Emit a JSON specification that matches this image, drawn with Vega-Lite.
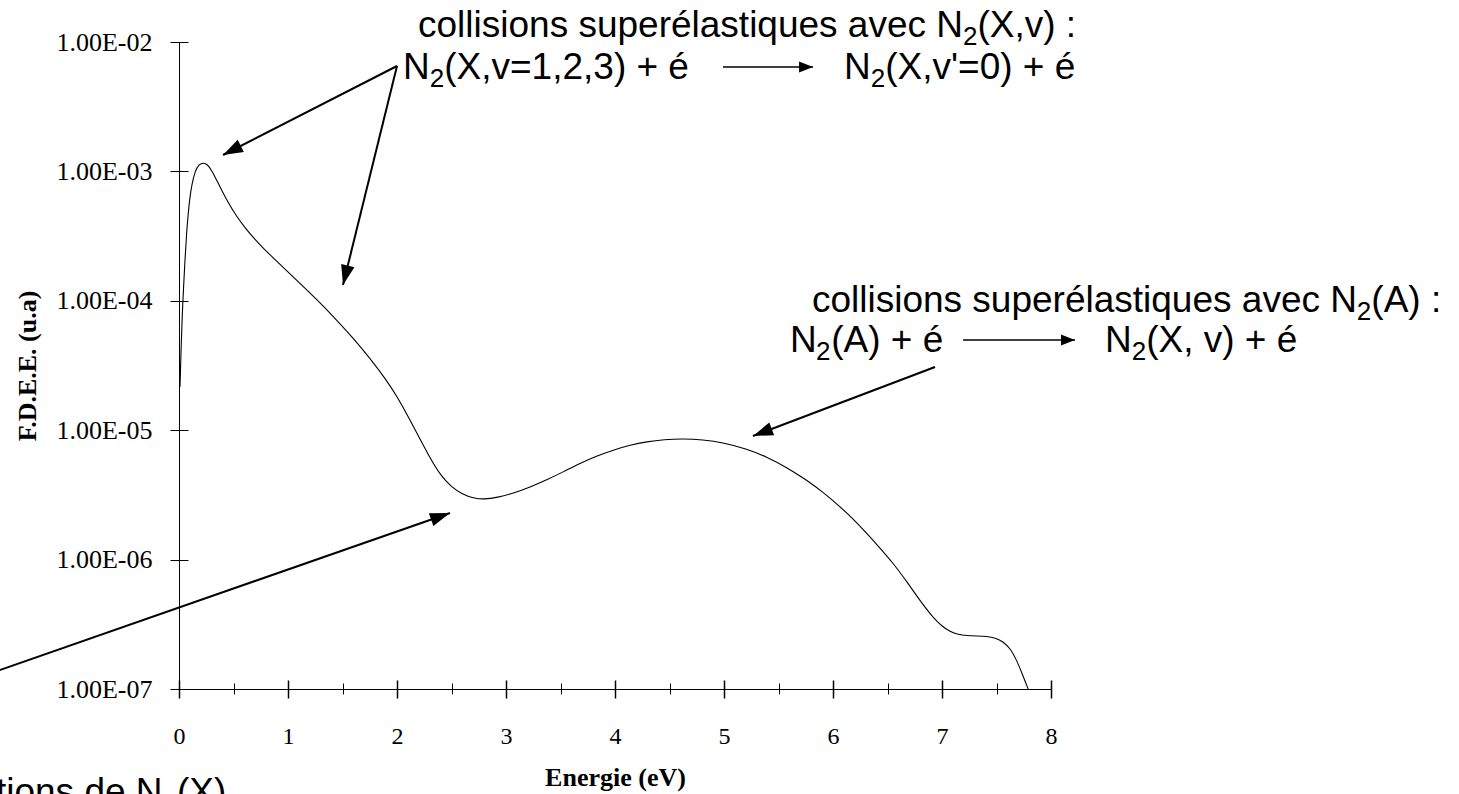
{
  "$schema": "https://vega.github.io/schema/vega-lite/v6.json",
  "width": 872,
  "height": 647,
  "autosize": {"type": "none"},
  "padding": {"left": 179, "top": 42, "right": 408, "bottom": 105},
  "background": "white",
  "config": {"view": {"stroke": null}, "font": "Liberation Sans"},
  "datasets": {
    "curve": [
      {"E": 0.009, "F": 2.153e-5}, {"E": 0.02, "F": 4.467e-5}, {"E": 0.03, "F": 7.943e-5},
      {"E": 0.04, "F": 1.175e-4}, {"E": 0.055, "F": 2.089e-4}, {"E": 0.07, "F": 3.388e-4},
      {"E": 0.085, "F": 4.786e-4}, {"E": 0.10, "F": 6.310e-4}, {"E": 0.116, "F": 7.762e-4},
      {"E": 0.147, "F": 1.012e-3}, {"E": 0.186, "F": 1.140e-3}, {"E": 0.223, "F": 1.167e-3},
      {"E": 0.26, "F": 1.135e-3}, {"E": 0.30, "F": 1.023e-3}, {"E": 0.376, "F": 7.586e-4},
      {"E": 0.45, "F": 5.754e-4}, {"E": 0.53, "F": 4.467e-4}, {"E": 0.61, "F": 3.631e-4},
      {"E": 0.69, "F": 3.020e-4}, {"E": 0.78, "F": 2.512e-4}, {"E": 0.88, "F": 2.089e-4},
      {"E": 0.99, "F": 1.698e-4}, {"E": 1.14, "F": 1.288e-4}, {"E": 1.294, "F": 9.660e-5},
      {"E": 1.447, "F": 7.079e-5}, {"E": 1.6, "F": 5.129e-5}, {"E": 1.752, "F": 3.589e-5},
      {"E": 1.905, "F": 2.427e-5}, {"E": 2.0, "F": 1.820e-5}, {"E": 2.1, "F": 1.288e-5},
      {"E": 2.2, "F": 8.913e-6}, {"E": 2.3, "F": 6.166e-6}, {"E": 2.4, "F": 4.467e-6},
      {"E": 2.5, "F": 3.631e-6}, {"E": 2.6, "F": 3.199e-6}, {"E": 2.7, "F": 2.985e-6},
      {"E": 2.8, "F": 2.917e-6}, {"E": 2.92, "F": 3.020e-6}, {"E": 3.067, "F": 3.251e-6},
      {"E": 3.22, "F": 3.631e-6}, {"E": 3.372, "F": 4.121e-6}, {"E": 3.53, "F": 4.786e-6},
      {"E": 3.679, "F": 5.546e-6}, {"E": 3.83, "F": 6.310e-6}, {"E": 3.985, "F": 7.031e-6},
      {"E": 4.14, "F": 7.674e-6}, {"E": 4.291, "F": 8.147e-6}, {"E": 4.45, "F": 8.472e-6},
      {"E": 4.627, "F": 8.590e-6}, {"E": 4.80, "F": 8.453e-6}, {"E": 5.0, "F": 7.998e-6},
      {"E": 5.2, "F": 7.194e-6}, {"E": 5.391, "F": 6.237e-6}, {"E": 5.58, "F": 5.129e-6},
      {"E": 5.758, "F": 4.121e-6}, {"E": 5.91, "F": 3.311e-6}, {"E": 6.064, "F": 2.570e-6},
      {"E": 6.19, "F": 2.042e-6}, {"E": 6.309, "F": 1.596e-6}, {"E": 6.43, "F": 1.230e-6},
      {"E": 6.554, "F": 9.333e-7}, {"E": 6.66, "F": 7.079e-7}, {"E": 6.768, "F": 5.248e-7},
      {"E": 6.85, "F": 4.217e-7}, {"E": 6.921, "F": 3.548e-7}, {"E": 7.0, "F": 3.055e-7},
      {"E": 7.073, "F": 2.773e-7}, {"E": 7.15, "F": 2.630e-7}, {"E": 7.226, "F": 2.582e-7},
      {"E": 7.32, "F": 2.570e-7}, {"E": 7.41, "F": 2.559e-7}, {"E": 7.49, "F": 2.483e-7},
      {"E": 7.562, "F": 2.323e-7}, {"E": 7.63, "F": 2.042e-7}, {"E": 7.684, "F": 1.675e-7},
      {"E": 7.74, "F": 1.288e-7}, {"E": 7.79, "F": 1.0e-7}
    ],
    "arrows": [
      {"id": "a1", "x": 2.0, "y": 6.525e-3, "x2": 0.4037, "y2": 1.339e-3},
      {"id": "a2", "x": 2.0, "y": 6.525e-3, "x2": 1.5046, "y2": 1.325e-4},
      {"id": "a3", "x": 6.9358, "y": 3.079e-5, "x2": 5.2661, "y2": 9.021e-6},
      {"id": "a4", "x": -1.917, "y": 1.164e-7, "x2": 2.4862, "y2": 2.292e-6},
      {"id": "b1", "x": 4.991, "y": 6.408e-3, "x2": 5.817, "y2": 6.408e-3},
      {"id": "b2", "x": 7.193, "y": 4.980e-5, "x2": 8.220, "y2": 4.980e-5}
    ],
    "notes": [
      {"x": 2.193, "y": 1.093e-2, "t": "collisions superélastiques avec N"},
      {"x": 7.325, "y": 1.093e-2, "t": "(X,v) :"},
      {"x": 2.055, "y": 5.177e-3, "t": "N"},
      {"x": 2.433, "y": 5.177e-3, "t": "(X,v=1,2,3) + é"},
      {"x": 6.101, "y": 5.177e-3, "t": "N"},
      {"x": 6.479, "y": 5.177e-3, "t": "(X,v'=0) + é"},
      {"x": 5.807, "y": 8.192e-5, "t": "collisions superélastiques avec N"},
      {"x": 10.939, "y": 8.192e-5, "t": "(A) :"},
      {"x": 5.606, "y": 4.021e-5, "t": "N"},
      {"x": 5.9835, "y": 4.021e-5, "t": "(A) + é"},
      {"x": 8.495, "y": 4.021e-5, "t": "N"},
      {"x": 8.873, "y": 4.021e-5, "t": "(X, v) + é"},
      {"x": -2.566, "y": 1.292e-8, "t": "excitations de N"},
      {"x": -0.0184, "y": 1.292e-8, "t": "(X)"}
    ],
    "subs": [
      {"x": 7.192, "y": 1.093e-2, "t": "2"},
      {"x": 2.2999, "y": 5.177e-3, "t": "2"},
      {"x": 6.346, "y": 5.177e-3, "t": "2"},
      {"x": 10.806, "y": 8.192e-5, "t": "2"},
      {"x": 5.8431, "y": 4.021e-5, "t": "2"},
      {"x": 8.740, "y": 4.021e-5, "t": "2"},
      {"x": -0.1514, "y": 1.292e-8, "t": "2"}
    ]
  },
  "resolve": {"axis": {"x": "independent", "y": "independent"}},
  "layer": [
    {
      "data": {"name": "curve"},
      "mark": {"type": "line", "interpolate": "basis", "color": "black", "strokeWidth": 1.1},
      "encoding": {
        "x": {
          "field": "E", "type": "quantitative",
          "scale": {"domain": [0, 8], "nice": false, "zero": false},
          "axis": {
            "orient": "bottom", "domain": true, "domainColor": "black", "domainWidth": 1,
            "ticks": false, "labels": false, "grid": false,
            "title": "Energie (eV)", "titleFont": "Liberation Serif", "titleFontSize": 26,
            "titleFontWeight": "bold", "titleColor": "black", "titleY": 96, "titleBaseline": "alphabetic"
          }
        },
        "y": {
          "field": "F", "type": "quantitative",
          "scale": {"type": "log", "domain": [1e-7, 1e-2], "nice": false},
          "axis": {
            "orient": "left", "domain": true, "domainColor": "black", "domainWidth": 1,
            "ticks": false, "labels": false, "grid": false,
            "title": "F.D.E.E. (u.a)", "titleFont": "Liberation Serif", "titleFontSize": 26,
            "titleFontWeight": "bold", "titleColor": "black", "titleAngle": -90,
            "titleX": -144, "titleY": 323.5, "titleAlign": "center", "titleBaseline": "alphabetic"
          }
        }
      }
    },
    {
      "data": {"name": "arrows"},
      "transform": [{"filter": "datum.id[0] === 'a'"}],
      "mark": {"type": "rule", "color": "black", "strokeWidth": 2},
      "encoding": {
        "x": {
          "field": "x", "type": "quantitative",
          "scale": {"domain": [0, 8], "nice": false, "zero": false},
          "axis": {
            "orient": "bottom", "values": [0, 1, 2, 3, 4, 5, 6, 7, 8],
            "offset": -9, "tickSize": 18, "tickColor": "black", "tickWidth": 1.5,
            "domain": false, "grid": false, "labelFont": "Liberation Serif", "labelFontSize": 24,
            "labelColor": "black", "labelPadding": 26, "labelFlush": false, "labelOverlap": false,
            "title": null
          }
        },
        "y": {
          "field": "y", "type": "quantitative",
          "scale": {"type": "log", "domain": [1e-7, 1e-2], "nice": false},
          "axis": {
            "orient": "left", "values": [1e-7, 1e-6, 1e-5, 1e-4, 1e-3, 1e-2],
            "offset": -9, "tickSize": 18, "tickColor": "black", "tickWidth": 1,
            "domain": false, "grid": false,
            "labelExpr": "'1.00E-0' + round(-log(datum.value) / LN10)",
            "labelFont": "Liberation Serif", "labelFontSize": 26, "labelColor": "black",
            "labelPadding": 18, "labelFlush": false, "labelOverlap": false, "title": null
          }
        },
        "x2": {"field": "x2"},
        "y2": {"field": "y2"}
      }
    },
    {
      "data": {"name": "arrows"},
      "transform": [{"filter": "datum.id[0] === 'b'"}],
      "mark": {"type": "rule", "color": "black", "strokeWidth": 1.5},
      "encoding": {
        "x": {"field": "x", "type": "quantitative", "scale": {"domain": [0, 8], "nice": false, "zero": false}, "axis": null},
        "y": {"field": "y", "type": "quantitative", "scale": {"type": "log", "domain": [1e-7, 1e-2], "nice": false}, "axis": null},
        "x2": {"field": "x2"},
        "y2": {"field": "y2"}
      }
    },
    {
      "data": {"name": "arrows"},
      "transform": [{"filter": "datum.id === 'a1'"}],
      "mark": {"type": "point", "shape": "M0,0L-0.34,1L0.34,1Z", "filled": true, "color": "black", "opacity": 1, "size": 1600, "angle": 242.9, "strokeWidth": 0},
      "encoding": {
        "x": {
          "field": "x2", "type": "quantitative",
          "scale": {"domain": [0, 8], "nice": false, "zero": false},
          "axis": {
            "orient": "bottom", "values": [0.5, 1.5, 2.5, 3.5, 4.5, 5.5, 6.5, 7.5],
            "offset": -6, "tickSize": 11, "tickColor": "black", "tickWidth": 1,
            "domain": false, "labels": false, "grid": false, "title": null
          }
        },
        "y": {"field": "y2", "type": "quantitative", "scale": {"type": "log", "domain": [1e-7, 1e-2], "nice": false}, "axis": null}
      }
    },
    {
      "data": {"name": "arrows"},
      "transform": [{"filter": "datum.id === 'a2'"}],
      "mark": {"type": "point", "shape": "M0,0L-0.34,1L0.34,1Z", "filled": true, "color": "black", "opacity": 1, "size": 1600, "angle": 193.85, "strokeWidth": 0},
      "encoding": {
        "x": {"field": "x2", "type": "quantitative", "scale": {"domain": [0, 8], "nice": false, "zero": false}, "axis": null},
        "y": {"field": "y2", "type": "quantitative", "scale": {"type": "log", "domain": [1e-7, 1e-2], "nice": false}, "axis": null}
      }
    },
    {
      "data": {"name": "arrows"},
      "transform": [{"filter": "datum.id === 'a3'"}],
      "mark": {"type": "point", "shape": "M0,0L-0.34,1L0.34,1Z", "filled": true, "color": "black", "opacity": 1, "size": 1600, "angle": 249.2, "strokeWidth": 0},
      "encoding": {
        "x": {"field": "x2", "type": "quantitative", "scale": {"domain": [0, 8], "nice": false, "zero": false}, "axis": null},
        "y": {"field": "y2", "type": "quantitative", "scale": {"type": "log", "domain": [1e-7, 1e-2], "nice": false}, "axis": null}
      }
    },
    {
      "data": {"name": "arrows"},
      "transform": [{"filter": "datum.id === 'a4'"}],
      "mark": {"type": "point", "shape": "M0,0L-0.34,1L0.34,1Z", "filled": true, "color": "black", "opacity": 1, "size": 1600, "angle": 70.76, "strokeWidth": 0},
      "encoding": {
        "x": {"field": "x2", "type": "quantitative", "scale": {"domain": [0, 8], "nice": false, "zero": false}, "axis": null},
        "y": {"field": "y2", "type": "quantitative", "scale": {"type": "log", "domain": [1e-7, 1e-2], "nice": false}, "axis": null}
      }
    },
    {
      "data": {"name": "arrows"},
      "transform": [{"filter": "datum.id[0] === 'b'"}],
      "mark": {"type": "point", "shape": "M0,0L-0.4,1L0.4,1Z", "filled": true, "color": "black", "opacity": 1, "size": 784, "angle": 90, "strokeWidth": 0},
      "encoding": {
        "x": {"field": "x2", "type": "quantitative", "scale": {"domain": [0, 8], "nice": false, "zero": false}, "axis": null},
        "y": {"field": "y2", "type": "quantitative", "scale": {"type": "log", "domain": [1e-7, 1e-2], "nice": false}, "axis": null}
      }
    },
    {
      "data": {"name": "notes"},
      "mark": {"type": "text", "align": "left", "baseline": "alphabetic", "font": "Liberation Sans", "fontSize": 37, "color": "black"},
      "encoding": {
        "x": {"field": "x", "type": "quantitative", "scale": {"domain": [0, 8], "nice": false, "zero": false}, "axis": null},
        "y": {"field": "y", "type": "quantitative", "scale": {"type": "log", "domain": [1e-7, 1e-2], "nice": false}, "axis": null},
        "text": {"field": "t"}
      }
    },
    {
      "data": {"name": "subs"},
      "mark": {"type": "text", "align": "left", "baseline": "alphabetic", "font": "Liberation Sans", "fontSize": 26, "dy": 8, "color": "black"},
      "encoding": {
        "x": {"field": "x", "type": "quantitative", "scale": {"domain": [0, 8], "nice": false, "zero": false}, "axis": null},
        "y": {"field": "y", "type": "quantitative", "scale": {"type": "log", "domain": [1e-7, 1e-2], "nice": false}, "axis": null},
        "text": {"field": "t"}
      }
    }
  ]
}
